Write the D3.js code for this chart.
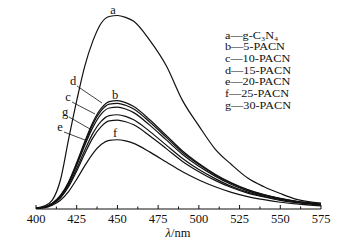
<!DOCTYPE html>
<html lang="en">
<head>
  <meta charset="UTF-8">
  <title>PL spectra</title>
  <style>
    body { margin: 0; background: #fff; }
    svg { display: block; }
    text { font-family: "Liberation Serif", "DejaVu Serif", serif; fill: #111; }
  </style>
  <script src="https://d3js.org/d3.v7.min.js"></script>
</head>
<body>
  <svg id="chart" width="343" height="245"></svg>
  <script>
    const wavelengths = [400, 405, 410, 415, 420, 425, 430, 435, 440, 445, 450, 455, 460, 470, 480, 490, 500, 510, 520, 530, 540, 550, 560, 575];
    const seriesA = [0.5, 1.5, 4.6, 15, 36, 56, 74, 87, 96, 99.5, 100, 99, 97, 87, 74, 56, 43, 31, 23, 16, 11.5, 8, 5, 3];
    const seriesB = [0.5, 1, 3, 7, 14, 24, 35, 45, 52, 55.5, 56, 55, 53, 46, 38, 30, 23.5, 18, 13.5, 10, 7.5, 5.5, 4, 2.5];
    const seriesC = [0.5, 0.9, 2.8, 6.6, 13.2, 22.6, 33, 42.3, 49, 52.2, 52.6, 51.7, 49.8, 43.2, 35.7, 28.2, 22.1, 17, 12.7, 9.4, 7, 5.2, 3.8, 2.4];
    const seriesD = [0.5, 1, 2.9, 6.8, 13.6, 23.4, 34, 44, 50.8, 54.2, 54.6, 53.6, 51.7, 44.8, 37, 29.2, 23, 17.6, 13.2, 9.8, 7.3, 5.4, 3.9, 2.4];
    const seriesE = [0.4, 0.8, 2.5, 5.7, 11.5, 19.7, 28.7, 36.9, 42.6, 45.5, 45.9, 45.1, 43.5, 37.7, 31.2, 24.6, 19.3, 14.8, 11.1, 8.2, 6.2, 4.5, 3.3, 2.1];
    const seriesF = [0.3, 0.6, 1.9, 4.5, 9, 15.4, 22.4, 28.8, 33.3, 35.5, 35.8, 35.2, 33.9, 29.4, 24.3, 19.2, 15, 11.5, 8.6, 6.4, 4.8, 3.5, 2.6, 1.6];
    const seriesG = [0.4, 0.9, 2.6, 6.1, 12.2, 20.9, 30.5, 39.2, 45.3, 48.3, 48.7, 47.9, 46.1, 40, 33, 26.1, 20.4, 15.7, 11.7, 8.7, 6.5, 4.8, 3.5, 2.2];
    const seriesList = [seriesA, seriesB, seriesC, seriesD, seriesE, seriesF, seriesG];
    const legendLabels = ["g-C₃N₄", "5-PACN", "10-PACN", "15-PACN", "20-PACN", "25-PACN", "30-PACN"];
    const letters = ["a", "b", "c", "d", "e", "f", "g"];
    const tickValues = [400, 425, 450, 475, 500, 525, 550, 575];

    const svg = d3.select('#chart');
    const x = d3.scaleLinear().domain([400, 575]).range([36, 321]);
    const y = d3.scaleLinear().domain([0, 100]).range([209, 15.5]);

    // curves
    const line = d3.line()
      .x((d, i) => x(wavelengths[i]))
      .y(d => y(d))
      .curve(d3.curveMonotoneX);

    svg.append('g')
      .selectAll('path')
      .data(seriesList)
      .enter().append('path')
      .attr('d', line)
      .attr('fill', 'none')
      .attr('stroke', '#111')
      .attr('stroke-width', 1.2);

    // bottom axis, ticks pointing up
    const axis = svg.append('g').attr('transform', 'translate(0,209)');
    axis.append('line')
      .attr('x1', x(400)).attr('x2', x(575))
      .attr('stroke', '#111').attr('stroke-width', 1.2);
    axis.selectAll('.minor')
      .data(d3.range(400, 576, 12.5))
      .enter().append('line')
      .attr('x1', d => x(d)).attr('x2', d => x(d))
      .attr('y1', 0).attr('y2', d => d % 25 === 0 ? -4 : -2.5)
      .attr('stroke', '#111').attr('stroke-width', 1);
    axis.selectAll('.lbl')
      .data(tickValues)
      .enter().append('text')
      .attr('x', d => x(d)).attr('y', 14)
      .attr('text-anchor', 'middle')
      .attr('font-size', 12.5)
      .text(d => d);

    const title = svg.append('text')
      .attr('x', 178).attr('y', 237)
      .attr('text-anchor', 'middle')
      .attr('font-size', 12.5);
    title.append('tspan').attr('font-style', 'italic').text('λ');
    title.append('tspan').text('/nm');

    // curve labels with leaders
    const tags = [
      { t: 'a', x: 113, y: 14 },
      { t: 'b', x: 115, y: 99 },
      { t: 'f', x: 115, y: 137 },
      { t: 'd', x: 73, y: 85, lx: 102, ly: 103 },
      { t: 'c', x: 68, y: 101, lx: 95, ly: 114 },
      { t: 'g', x: 65, y: 116, lx: 90, ly: 129 },
      { t: 'e', x: 60, y: 131, lx: 85, ly: 140 }
    ];
    tags.forEach(d => {
      svg.append('text')
        .attr('x', d.x).attr('y', d.y)
        .attr('text-anchor', 'middle')
        .attr('font-size', 12.5)
        .text(d.t);
      if (d.lx) {
        svg.append('line')
          .attr('x1', d.x + 4).attr('y1', d.y + 1)
          .attr('x2', d.lx).attr('y2', d.ly)
          .attr('stroke', '#111').attr('stroke-width', 0.8);
      }
    });

    // legend: smaller font, stretched horizontally so rows don't collide
    const legend = svg.append('g')
      .selectAll('text')
      .data(legendLabels)
      .enter().append('text')
      .attr('x', 225)
      .attr('y', (d, i) => 38.5 + i * 11.7)
      .attr('font-size', 10)
      .text((d, i) => letters[i] + '—' + d);
    legend.each(function() {
      const len = this.getComputedTextLength();
      d3.select(this)
        .attr('textLength', len * 1.22)
        .attr('lengthAdjust', 'spacingAndGlyphs');
    });
  </script>
</body>
</html>
